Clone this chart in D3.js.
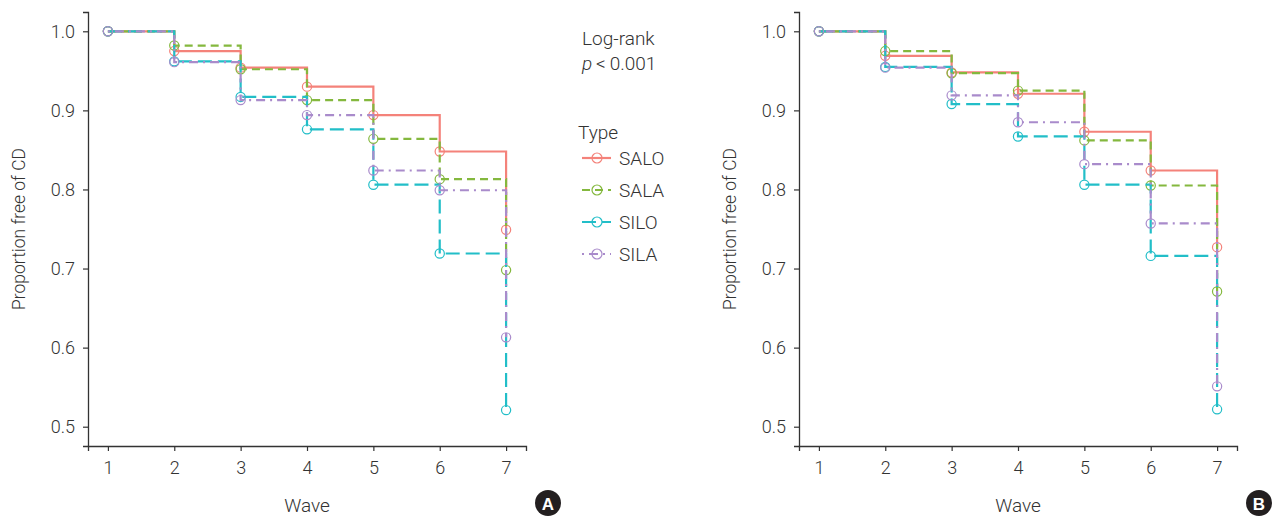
<!DOCTYPE html>
<html><head><meta charset="utf-8">
<script src="https://cdn.jsdelivr.net/npm/d3@7"></script>
<style>
body{margin:0;background:#fff;}
text{font-family:Roboto,"Noto Sans",sans-serif;font-weight:300;fill:#333;}
</style></head>
<body><svg id="c" width="1275" height="518"></svg>
<script>
const waves = [1,2,3,4,5,6,7];
const seriesNames = ["SALO","SALA","SILO","SILA"];
const colors = ["#F4827A","#84B83E","#22BEC8","#A98BCB"];
const dashes = ["none","8,5","14,6","2,5,9,5"];
// Panel A values
const A_SALO = [1.0,0.975,0.954,0.930,0.894,0.848,0.749];
const A_SALA = [1.0,0.982,0.952,0.913,0.864,0.813,0.698];
const A_SILO = [1.0,0.962,0.917,0.876,0.806,0.719,0.521];
const A_SILA = [1.0,0.961,0.913,0.894,0.824,0.799,0.613];
// Panel B values
const B_SALO = [1.0,0.969,0.948,0.921,0.873,0.824,0.727];
const B_SALA = [1.0,0.975,0.947,0.925,0.862,0.805,0.671];
const B_SILO = [1.0,0.955,0.908,0.867,0.806,0.716,0.522];
const B_SILA = [1.0,0.954,0.919,0.885,0.832,0.757,0.551];
const yTicks = [0.5,0.6,0.7,0.8,0.9,1.0];
const yLabel = "Proportion free of CD";
const xLabel = "Wave";

const svg = d3.select("#c");

function panel(ox, data, badge){
  const x = d3.scaleLinear().domain([0.7,7.3]).range([ox, ox+438]);
  const y = d3.scaleLinear().domain([0.4756,1.0244]).range([446,12]);
  const g = svg.append("g");
  const yAx = g.append("g").attr("transform",`translate(${ox},0)`)
    .call(d3.axisLeft(y).tickValues(yTicks).tickFormat(d3.format(".1f")).tickSize(5).tickPadding(8));
  const xAx = g.append("g").attr("transform",`translate(0,446)`)
    .call(d3.axisBottom(x).tickValues(waves).tickFormat(d3.format("d")).tickSize(5).tickPadding(10));
  [yAx,xAx].forEach(a=>{
    a.select(".domain").attr("stroke","#333").attr("stroke-width",1.3);
    a.selectAll(".tick line").attr("stroke","#333").attr("stroke-width",1.2);
    a.selectAll(".tick text").attr("font-size",18).attr("fill","#333");
  });
  g.append("text").attr("transform",`translate(${ox-63},229) rotate(-90)`)
    .attr("text-anchor","middle").attr("font-size",17.5).text(yLabel);
  g.append("text").attr("x",ox+219).attr("y",512).attr("text-anchor","middle")
    .attr("font-size",19).text(xLabel);
  const line = d3.line().x((d,i)=>x(waves[i])).y(d=>y(d)).curve(d3.curveStepAfter);
  data.forEach((vals,k)=>{
    g.append("path").attr("d",line(vals)).attr("fill","none")
      .attr("stroke",colors[k]).attr("stroke-width",2.2)
      .attr("stroke-dasharray",dashes[k]);
    g.selectAll(null).data(vals).enter().append("circle")
      .attr("cx",(d,i)=>x(waves[i])).attr("cy",d=>y(d)).attr("r",4.6)
      .attr("fill","none").attr("stroke",colors[k]).attr("stroke-width",1.2);
  });
  // badge
  const bx = ox+460, by = 503;
  g.append("circle").attr("cx",bx).attr("cy",by).attr("r",13).attr("fill","#231f20");
  g.append("text").attr("x",bx).attr("y",by+6.5).attr("text-anchor","middle")
    .attr("font-size",17).style("font-weight","bold").style("fill","#fff")
    .style("font-family","'Liberation Sans',Arial,sans-serif").text(badge);
}
panel(88,[A_SALO,A_SALA,A_SILO,A_SILA],"A");
panel(799,[B_SALO,B_SALA,B_SILO,B_SILA],"B");

// annotation and legend
const ann = svg.append("g");
ann.append("text").attr("x",582).attr("y",45).attr("font-size",19).text("Log-rank");
const pt = ann.append("text").attr("x",582).attr("y",70).attr("font-size",19);
pt.append("tspan").attr("font-style","italic").text("p");
pt.append("tspan").text("\u2009<\u20090.001");
ann.append("text").attr("x",578).attr("y",139).attr("font-size",19).text("Type");
seriesNames.forEach((n,k)=>{
  const yy = 158 + k*32;
  ann.append("line").attr("x1",582).attr("x2",611).attr("y1",yy).attr("y2",yy)
    .attr("stroke",colors[k]).attr("stroke-width",2.2).attr("stroke-dasharray",dashes[k]);
  ann.append("circle").attr("cx",597).attr("cy",yy).attr("r",5).attr("fill","none")
    .attr("stroke",colors[k]).attr("stroke-width",1.2);
  ann.append("text").attr("x",619).attr("y",yy+7).attr("font-size",19).text(n);
});
</script></body></html>
